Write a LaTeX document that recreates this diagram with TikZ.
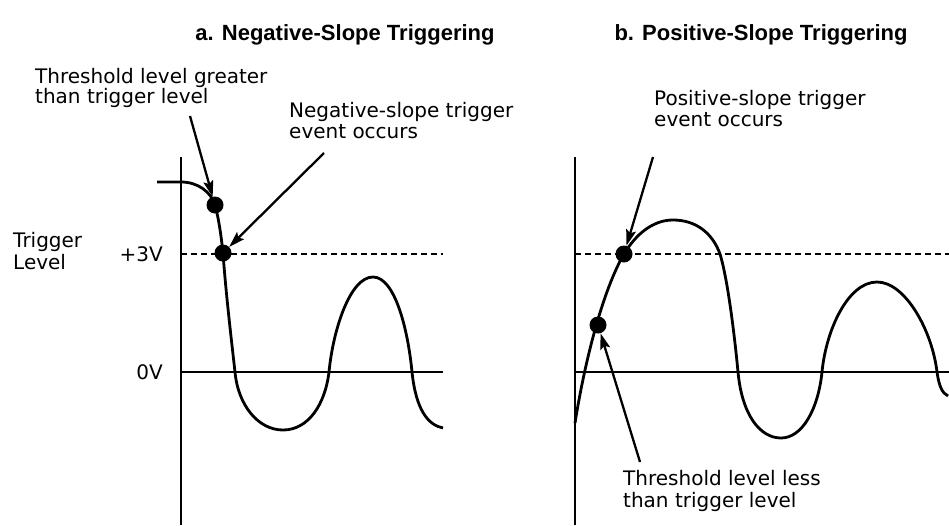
\documentclass[tikz,border=0pt]{standalone}
\usepackage{fontspec}
\setmainfont{DejaVu Sans}
\newfontfamily\titlefont{Liberation Sans}
\usetikzlibrary{arrows.meta}
\begin{document}
\begin{tikzpicture}[x=1pt,y=-1pt,
  lbl/.style={inner sep=0pt,font=\fontsize{20}{21}\selectfont},
  ttl/.style={inner sep=0pt,font=\titlefont\bfseries\fontsize{22}{24}\selectfont,anchor=base},
  axis/.style={line width=2.8pt},
  wave/.style={line width=2.8pt},
  lvl/.style={line width=2.3pt,dash pattern=on 6pt off 4pt},
  dot/.style={circle,fill=black,inner sep=0pt,minimum size=17pt},
  arr/.style={line width=2.3pt,-{Stealth[length=16pt,width=10pt,inset=3pt]}}]
\path[use as bounding box] (0,0) rectangle (949,525);

% titles
\node[ttl] (ta) at (345,40) {a. Negative-Slope Triggering};
\node[ttl] (tb) at (761,40) {b. Positive-Slope Triggering};

% ---------- panel a ----------
\coordinate (aTop) at (181,157);
\coordinate (aBot) at (181,525);
\coordinate (a3L) at (181,254);
\coordinate (a3R) at (443,254);
\coordinate (a0L) at (181,372);
\coordinate (a0R) at (443,372);
\draw[axis] (aTop) -- (aBot);
\draw[axis] (a0L) -- (a0R);
\draw[lvl] (a3L) -- (a3R);

\draw[wave] (157,182) -- (181,182)
  .. controls (198,182) and (211,192) .. (215,205)
  .. controls (219,220) and (221,235) .. (223,253)
  .. controls (226,295) and (232,345) .. (235,372)
  .. controls (238,405) and (258,430) .. (283,430)
  .. controls (308,430) and (325,405) .. (329,372)
  .. controls (333,330) and (350,277) .. (373,277)
  .. controls (395,277) and (408,330) .. (412,372)
  .. controls (416,410) and (428,425) .. (443,428);

\node[dot] (ad1) at (215,205) {};
\node[dot] (ad2) at (223,253) {};

\node[lbl,anchor=base west] (la1) at (35,83) {Threshold level greater};
\node[lbl,anchor=base west] (la2) at (35,103) {than trigger level};
\node[lbl,anchor=base west] (lb1) at (289,117) {Negative-slope trigger};
\node[lbl,anchor=base west] (lb2) at (289,138) {event occurs};
\node[lbl,anchor=base west] (tl1) at (13,247) {Trigger};
\node[lbl,anchor=base west] (tl2) at (13,269) {Level};
\node[lbl,anchor=east] (v3) at (163,254) {+3V};
\node[lbl,anchor=east] (v0) at (163,372) {0V};

\coordinate (aa1) at (190,116);
\coordinate (aa2) at (324,153);
\draw[arr] (aa1) -- (ad1);
\draw[arr] (aa2) -- (ad2);

% ---------- panel b ----------
\coordinate (bTop) at (575,157);
\coordinate (bBot) at (575,525);
\coordinate (b3L) at (575,254);
\coordinate (b3R) at (949,254);
\coordinate (b0L) at (575,372);
\coordinate (b0R) at (949,372);
\draw[axis] (bTop) -- (bBot);
\draw[axis] (b0L) -- (b0R);
\draw[lvl] (b3L) -- (b3R);

\draw[wave] (575,423)
  .. controls (585,360) and (603,290) .. (624,254)
  .. controls (636,234) and (653,220) .. (673,220)
  .. controls (695,220) and (712,232) .. (720,254)
  .. controls (728,280) and (735,340) .. (738,372)
  .. controls (742,415) and (760,438) .. (781,438)
  .. controls (802,438) and (818,410) .. (822,372)
  .. controls (826,330) and (848,282) .. (877,282)
  .. controls (905,282) and (932,330) .. (937,372)
  .. controls (939,386) and (942,393) .. (948,396);

\node[dot] (bd1) at (598,325) {};
\node[dot] (bd2) at (624,254) {};

\node[lbl,anchor=base west] (lc1) at (654,105) {Positive-slope trigger};
\node[lbl,anchor=base west] (lc2) at (654,126) {event occurs};
\node[lbl,anchor=base west] (ld1) at (623,485) {Threshold level less};
\node[lbl,anchor=base west] (ld2) at (623,507) {than trigger level};

\coordinate (ba1) at (653,157);
\coordinate (ba2) at (640,462);
\draw[arr] (ba1) -- (bd2);
\draw[arr] (ba2) -- (bd1);
\end{tikzpicture}
\end{document}
